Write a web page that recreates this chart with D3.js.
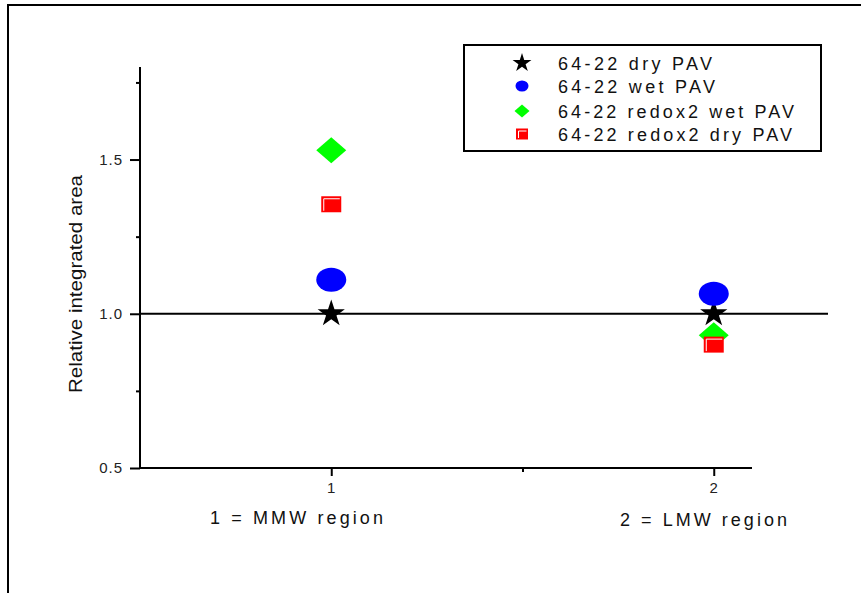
<!DOCTYPE html>
<html><head><meta charset="utf-8">
<script src="https://cdn.jsdelivr.net/npm/d3@7"></script>
<style>body{margin:0;background:#fff}svg{display:block;font-family:Arial,"Liberation Sans",sans-serif}</style>
</head><body><svg id="c" width="861" height="593"></svg>
<script>
const regions = [1, 2];
const seriesNames = ["64-22 dry PAV", "64-22 wet PAV", "64-22 redox2 wet PAV", "64-22 redox2 dry PAV"];
const dryPAV = [1.00, 1.00];
const wetPAV = [1.11, 1.065];
const redox2WetPAV = [1.53, 0.93];
const redox2DryPAV = [1.355, 0.90];
const yTicks = [0.5, 1.0, 1.5];
const yMinorTicks = [0.75, 1.25, 1.75];
const xTicks = [1, 2];
const xMinorTicks = [1.5];
const regionLabels = ["1 = MMW region", "2 = LMW region"];

const svg = d3.select("#c");
const x = d3.scaleLinear().domain([0.5, 2.1]).range([140, 752]);
const y = d3.scaleLinear().domain([0.5, 1.8]).range([468, 67]);

// outer frame
svg.append("path").attr("d","M8,593 V5 H861").attr("fill","none").attr("stroke","#000").attr("stroke-width",2);

// axes (tick marks from d3 axes; labels drawn as larger text)
svg.append("g").attr("transform","translate(140,0)")
  .call(d3.axisLeft(y).tickValues(yTicks).tickFormat("").tickSize(10));
svg.append("g").attr("transform","translate(140,0)")
  .call(d3.axisLeft(y).tickValues(yMinorTicks).tickFormat("").tickSize(4));
svg.append("g").attr("transform","translate(0,468)")
  .call(d3.axisBottom(x).tickValues(xTicks).tickFormat("").tickSize(8));
svg.append("g").attr("transform","translate(0,468)")
  .call(d3.axisBottom(x).tickValues(xMinorTicks).tickFormat("").tickSize(4));
svg.selectAll(".domain").remove();
svg.selectAll(".tick line").attr("stroke-width",2);
svg.append("g").selectAll("text").data(yTicks).join("text")
  .attr("x",123).attr("y",d=>y(d)+5).attr("text-anchor","end")
  .attr("font-size",15).attr("letter-spacing",1).attr("fill","#222").text(d3.format(".1f"));
svg.append("g").selectAll("text").data(xTicks).join("text")
  .attr("x",d=>x(d)).attr("y",493).attr("text-anchor","middle")
  .attr("font-size",15).attr("fill","#222").text(d3.format("d"));
svg.append("line").attr("x1",140).attr("x2",140).attr("y1",y(1.8)).attr("y2",y(0.5)+1).attr("stroke","#000").attr("stroke-width",2);
svg.append("line").attr("x1",139).attr("x2",752).attr("y1",y(0.5)).attr("y2",y(0.5)).attr("stroke","#000").attr("stroke-width",2);

// reference line at 1.0
svg.append("line").attr("x1",140).attr("x2",828).attr("y1",y(1)).attr("y2",y(1)).attr("stroke","#000").attr("stroke-width",2);

// axis titles
svg.append("text").attr("transform",`translate(82,284) rotate(-90)`).attr("text-anchor","middle")
  .attr("font-size",19).attr("textLength",218).attr("lengthAdjust","spacingAndGlyphs").attr("fill","#111").text("Relative integrated area");
svg.append("text").attr("x",210).attr("y",524).attr("font-size",18)
  .attr("textLength",173).attr("lengthAdjust","spacing").attr("fill","#111").text(regionLabels[0]);
svg.append("text").attr("x",620).attr("y",526).attr("font-size",18)
  .attr("textLength",167).attr("lengthAdjust","spacing").attr("fill","#111").text(regionLabels[1]);

// markers
function star(g, s){ g.append("path").attr("d", d3.symbol(d3.symbolStar, s)()).attr("fill","#000"); }
function ellipse(g, rx, ry){ g.append("ellipse").attr("rx",rx).attr("ry",ry).attr("fill","#0000ff"); }
function diamond(g, w, h){ g.append("path").attr("d",`M0,${-h/2}L${w/2},0L0,${h/2}L${-w/2},0Z`).attr("fill","#00ff00"); }
function square(g, w, h){
  g.append("rect").attr("x",-w/2).attr("y",-h/2).attr("width",w).attr("height",h).attr("fill","#ff0000");
  g.append("path").attr("d",`M${-w/2+2.5},${h/2-1.5}V${-h/2+2.5}H${w/2-1.5}`).attr("fill","none").attr("stroke","#fff").attr("stroke-width",1);
}
const pts = svg.append("g");
regions.forEach((r,i)=>{
  star(pts.append("g").attr("transform",`translate(${x(r)},${y(dryPAV[i])})`), 230);
  ellipse(pts.append("g").attr("transform",`translate(${x(r)},${y(wetPAV[i])})`), 15, 12);
  diamond(pts.append("g").attr("transform",`translate(${x(r)},${y(redox2WetPAV[i])})`), 30, 26);
  square(pts.append("g").attr("transform",`translate(${x(r)},${y(redox2DryPAV[i])})`), 20, 16);
});

// legend
const lg = svg.append("g");
lg.append("rect").attr("x",464).attr("y",45).attr("width",357).attr("height",106).attr("fill","#fff").attr("stroke","#000").attr("stroke-width",2);
const rowsY = [63, 86, 111, 134];
const textLens = [154, 157, 236, 234];
const drawers = [
  g=>star(g,110), g=>ellipse(g,6.5,5.5), g=>diamond(g,15,13), g=>square(g,12,11)
];
seriesNames.forEach((n,i)=>{
  const g = lg.append("g").attr("transform",`translate(522,${rowsY[i]})`);
  drawers[i](g);
  lg.append("text").attr("x",558).attr("y",rowsY[i]+7).attr("font-size",18)
    .attr("textLength",textLens[i]).attr("lengthAdjust","spacing")
    .attr("fill","#111").text(n);
});
</script></body></html>
